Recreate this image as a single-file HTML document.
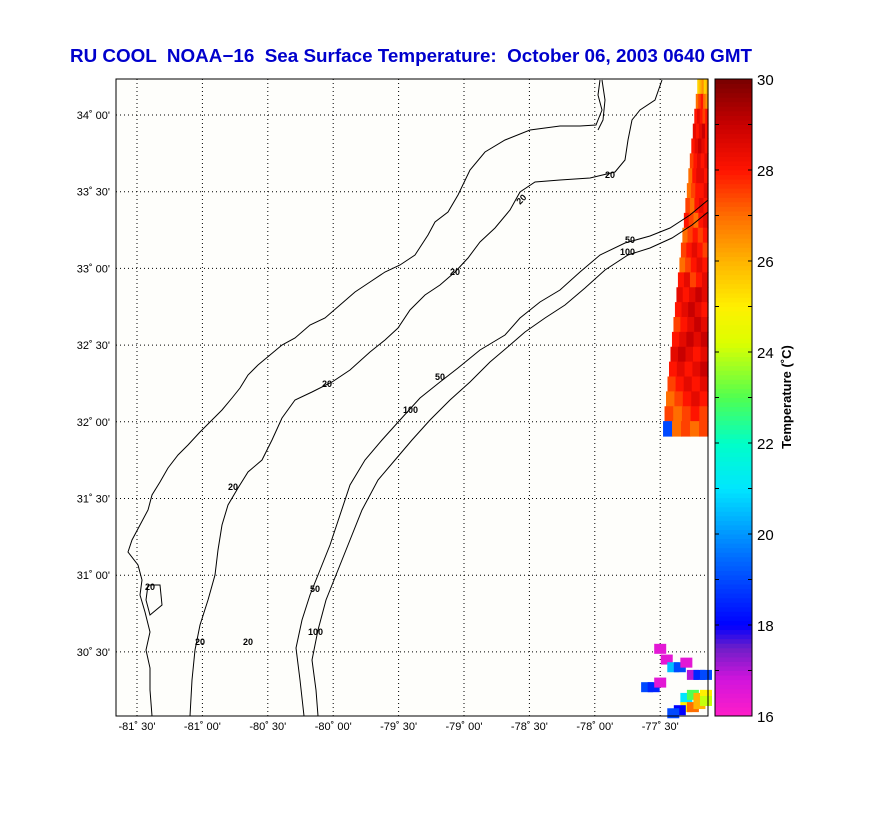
<!DOCTYPE html>
<html><head><meta charset="utf-8"><style>
body{margin:0;background:#fff;}
svg text{font-family:"Liberation Sans",sans-serif;}
</style></head><body>
<svg id="chart" width="892" height="825" xmlns="http://www.w3.org/2000/svg">
<rect width="892" height="825" fill="#ffffff"/>
<text x="70" y="62" font-size="18" font-weight="bold" fill="#0000cc" textLength="682" lengthAdjust="spacingAndGlyphs" xml:space="preserve">RU COOL  NOAA−16  Sea Surface Temperature:  October 06, 2003 0640 GMT</text>
<rect x="116" y="79" width="592" height="637" fill="#fefefb"/>
<g id="grid"></g>
<g id="swath"></g>
<g fill="none" stroke="#000" stroke-width="1">
<polyline points="600,80 598,95 602,110 596,125 580,126 560,126 530,130 505,140 485,152 470,170 458,195 448,212 435,222 428,235 415,255 400,265 385,272 370,282 355,292 340,305 325,318 310,325 295,338 282,345 270,355 258,365 248,375 240,388 232,398 222,410 210,422 200,432 188,445 178,455 168,468 160,482 152,495 148,510 140,525 132,540 128,552 138,565 142,580 140,595 145,612 150,632 146,650 150,668 150,690 152,716"/>
<polyline points="602,80 605,100 603,120 598,130"/>
<polyline points="148,585 160,585 162,605 150,615 146,600 148,585"/>
<polyline points="662,80 655,100 640,110 632,120 628,140 625,160 615,172 590,178 560,180 535,182 520,192 510,210 495,228 480,242 468,258 455,272 440,285 425,295 410,310 398,328 385,340 370,352 350,370 332,382 312,392 295,400 282,418 272,440 262,460 248,472 238,488 228,505 222,525 218,550 215,575 208,600 200,625 195,650 192,680 190,716"/>
<polyline points="708,200 690,215 670,228 650,236 625,243 600,255 580,272 560,290 540,302 520,318 505,335 480,350 458,368 440,382 420,398 400,420 382,440 365,460 350,485 340,515 330,545 320,570 310,595 302,620 296,648 300,680 304,716"/>
<polyline points="708,212 692,225 672,238 650,248 628,255 605,270 585,288 565,305 545,318 525,332 510,345 490,362 470,382 450,400 430,420 412,440 395,460 378,480 362,510 350,540 338,570 326,600 318,630 312,660 316,690 318,716"/>
</g>
<g font-size="9" font-weight="bold" fill="#000">
<text x="605" y="178">20</text>
<text x="520" y="205" transform="rotate(-45 520 205)">20</text>
<text x="450" y="275">20</text>
<text x="322" y="387">20</text>
<text x="228" y="490">20</text>
<text x="145" y="590">20</text>
<text x="195" y="645">20</text>
<text x="243" y="645">20</text>
<text x="625" y="243">50</text>
<text x="620" y="255">100</text>
<text x="435" y="380">50</text>
<text x="403" y="413">100</text>
<text x="310" y="592">50</text>
<text x="308" y="635">100</text>
</g>
<rect x="116" y="79" width="592" height="637" fill="none" stroke="#000" stroke-width="1"/>
<g id="axes"></g>
<g id="cbar"></g>
<text x="791" y="397" font-size="13" font-weight="bold" text-anchor="middle" transform="rotate(-90 791 397)">Temperature (˚C)</text>
</svg>
<script>
const lonTicks = [-81.5, -81, -80.5, -80, -79.5, -79, -78.5, -78, -77.5];
const lonLabels = ["-81˚ 30'", "-81˚ 00'", "-80˚ 30'", "-80˚ 00'", "-79˚ 30'", "-79˚ 00'", "-78˚ 30'", "-78˚ 00'", "-77˚ 30'"];
const latTicks = [34, 33.5, 33, 32.5, 32, 31.5, 31, 30.5];
const latLabels = ["34˚ 00'", "33˚ 30'", "33˚ 00'", "32˚ 30'", "32˚ 00'", "31˚ 30'", "31˚ 00'", "30˚ 30'"];
const cbarTicks = [16, 18, 20, 22, 24, 26, 28, 30];
// SST swath rows (north to south), each 5 cells from inner to outer edge, °C
const swathRows = [
 [25.5,26,26.5,25.5,26],[27,27.5,28,27,26.5],[28,28.5,28,27.5,28],[28.5,28,28.5,29,28],
 [28,28.5,29,28.5,28],[27.5,28,28.5,28,28.5],[27,28,28.5,28.5,28],[27,27.5,28,28,28.5],
 [27.5,27,28,28.5,28],[28,27.5,27,28,28.5],[27,27.5,28,27.5,28],[27.5,28,28.5,28,27.5],
 [27,27.5,28,28.5,28],[28,28.5,27.5,28,28.5],[28.5,28,28.5,29,28.5],[28,28.5,29,28.5,28],
 [27.5,28,28.5,29,28.5],[28,28.5,29,28.5,29],[28.5,29,28.5,28,28.5],[28,28.5,28,28.5,29],
 [27.5,28,28.5,28,28.5],[27,27.5,28,28.5,28],[27.5,27,27.5,28,27.5],[19,27,27.5,27,27.5]
];
// scattered patches at bottom right: lon, lat, value
const patchLon = [-77.45,-77.4,-77.35,-77.3,-77.25,-77.2,-77.15,-77.6,-77.55,-77.5,-77.3,-77.25,-77.2,-77.15,-77.3,-77.25,-77.2,-77.15,-77.35,-77.4,-77.5];
const patchLat = [30.45,30.4,30.4,30.43,30.35,30.35,30.35,30.27,30.27,30.3,30.2,30.22,30.2,30.22,30.14,30.14,30.16,30.18,30.12,30.1,30.52];
const patchVal = [16.5,20.5,19,16.5,17,18.5,19,19,18.5,16.5,21,23,26,25,25,27,26,24,18,19,16.5];

const NS='http://www.w3.org/2000/svg';
const X0=116,X1=708,Y0=79,Y1=716;
const xOf = lon => 137 + (lon+81.5)*130.8;
const yOf = lat => 115 + (34-lat)*153.4;
const cY = v => Y1 - (v-16)/(30-16)*(Y1-Y0);
function mk(tag,attrs,parent){const e=document.createElementNS(NS,tag);for(const k in attrs)e.setAttribute(k,attrs[k]);parent.appendChild(e);return e;}
const stops=[[16,[255,30,200]],[16.8,[210,20,220]],[17.5,[110,30,200]],[18,[0,0,255]],[19.5,[0,110,255]],[21,[0,230,255]],[22,[0,255,200]],[23,[80,255,80]],[24.2,[220,255,0]],[25,[255,240,0]],[26,[255,180,0]],[27,[255,110,0]],[28,[255,20,0]],[29,[200,0,0]],[30,[120,0,0]]];
function color(v){v=Math.max(16,Math.min(30,v));for(let i=0;i<stops.length-1;i++){const [a,ca]=stops[i],[b,cb]=stops[i+1];if(v<=b){const t=(v-a)/(b-a);return 'rgb('+ca.map((c,j)=>Math.round(c+(cb[j]-c)*t)).join(',')+')';}}return 'rgb(120,0,0)';}

const grid=document.getElementById('grid'), axes=document.getElementById('axes');
lonTicks.forEach((t,i)=>{const x=xOf(t);
 const l=mk('line',{x1:x,x2:x,y1:Y0,y2:Y1,stroke:'#000','stroke-width':1,'stroke-dasharray':'1 3'},grid);
 
 
 const tx=mk('text',{x:x,y:730,'font-size':11,'text-anchor':'middle'},axes);tx.textContent=lonLabels[i];
 
 
});
latTicks.forEach((t,i)=>{const y=yOf(t);
 const l=mk('line',{x1:X0,x2:X1,y1:y,y2:y,stroke:'#000','stroke-width':1,'stroke-dasharray':'1 3'},grid);
 
 
 const tx=mk('text',{x:110,y:y+4,'font-size':11,'text-anchor':'end'},axes);tx.textContent=latLabels[i];
 
 
});
const sw=document.getElementById('swath');
const rh=(436-Y0)/swathRows.length;
swathRows.forEach((row,r)=>{const y=Y0+r*rh;const left=698-(y+rh/2-Y0)*0.1;const w=(X1-left)/row.length;
 row.forEach((v,c)=>{const e=mk('rect',{x:left+c*w,y:y,width:w+0.6,height:rh+0.6,fill:color(v)},sw);
  
  });
});
patchVal.forEach((v,i)=>{const e=mk('rect',{x:xOf(patchLon[i])-6,y:yOf(patchLat[i])-5,width:12,height:10,fill:color(v)},sw);
 
 });
const cb=document.getElementById('cbar');
for(let v=16;v<30;v+=0.1){const e=mk('rect',{x:715,y:cY(v+0.1),width:37,height:(Y1-Y0)/140+0.5,fill:color(v+0.05)},cb);
 
 }
const fr=mk('rect',{x:715,y:Y0,width:37,height:Y1-Y0,fill:'none',stroke:'#000'},cb);


for(let v=16;v<=30;v+=1){const y=cY(v);mk('line',{x1:715,x2:719,y1:y,y2:y,stroke:'#000'},cb);mk('line',{x1:748,x2:752,y1:y,y2:y,stroke:'#000'},cb);}
cbarTicks.forEach(t=>{const tx=mk('text',{x:757,y:cY(t)+6,'font-size':15},cb);tx.textContent=t;
 
 });
</script>
</body></html>
